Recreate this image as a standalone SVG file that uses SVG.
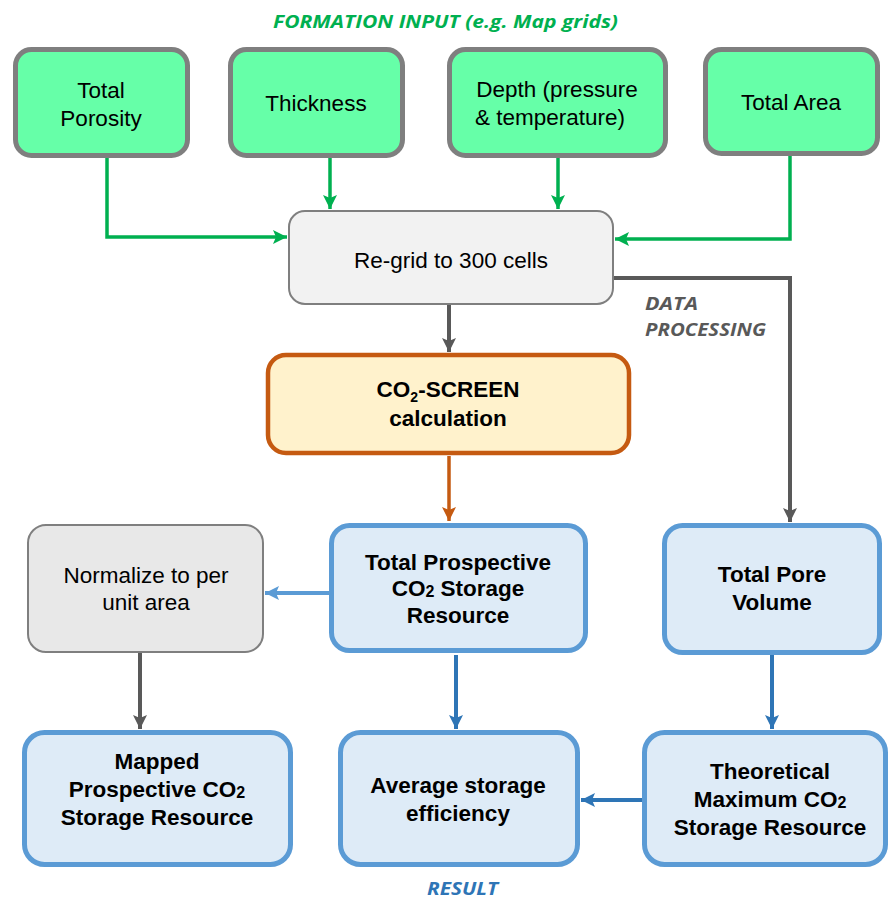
<svg xmlns="http://www.w3.org/2000/svg" width="890" height="902" viewBox="0 0 890 902">
<style>
.in{fill:#66ffa8;stroke:#7f7f7f;stroke-width:5}
.proc{fill:#f2f2f2;stroke:#7f7f7f;stroke-width:2}
.norm{fill:#e8e8e8;stroke:#7f7f7f;stroke-width:2}
.calc{fill:#fff2cc;stroke:#c55a11;stroke-width:4.5}
.res{fill:#deebf7;stroke:#5b9bd5;stroke-width:5}
.t{font-family:"Liberation Sans",Arial,sans-serif;font-size:22.5px;fill:#000;text-anchor:middle}
.b{font-weight:bold}
.lab{font-family:"Open Sans","Liberation Sans",sans-serif;font-weight:bold;font-style:italic;font-size:18px}
.c{fill:none}
</style>
<defs>
<marker id="ag" viewBox="0 0 14 14" refX="14" refY="7" markerWidth="14" markerHeight="14" markerUnits="userSpaceOnUse" orient="auto"><path d="M0,0 L14,7 L0,14 L3,7 z" fill="#00b050"/></marker>
<marker id="ak" viewBox="0 0 14 14" refX="14" refY="7" markerWidth="14" markerHeight="14" markerUnits="userSpaceOnUse" orient="auto"><path d="M0,0 L14,7 L0,14 L3,7 z" fill="#595959"/></marker>
<marker id="ao" viewBox="0 0 14 14" refX="14" refY="7" markerWidth="14" markerHeight="14" markerUnits="userSpaceOnUse" orient="auto"><path d="M0,0 L14,7 L0,14 L3,7 z" fill="#c55a11"/></marker>
<marker id="al" viewBox="0 0 14 14" refX="14" refY="7" markerWidth="14" markerHeight="14" markerUnits="userSpaceOnUse" orient="auto"><path d="M0,0 L14,7 L0,14 L3,7 z" fill="#5b9bd5"/></marker>
<marker id="ab" viewBox="0 0 14 14" refX="14" refY="7" markerWidth="14" markerHeight="14" markerUnits="userSpaceOnUse" orient="auto"><path d="M0,0 L14,7 L0,14 L3,7 z" fill="#2e75b6"/></marker>
</defs>
<rect width="890" height="902" fill="#ffffff"/>

<g id="labels">
<text class="lab" x="273" y="28" fill="#00b050" textLength="345" lengthAdjust="spacingAndGlyphs">FORMATION INPUT (e.g. Map grids)</text>
<text class="lab" x="645" y="310" fill="#595959" textLength="53" lengthAdjust="spacingAndGlyphs">DATA</text>
<text class="lab" x="645" y="336" fill="#595959" textLength="121" lengthAdjust="spacingAndGlyphs">PROCESSING</text>
<text class="lab" x="427" y="895" fill="#2e75b6" textLength="71" lengthAdjust="spacingAndGlyphs">RESULT</text>
</g>

<g id="connectors" class="c">
<path d="M107,158 V237 H287" stroke="#00b050" stroke-width="3.5" fill="none" marker-end="url(#ag)"/>
<path d="M330,158 V209" stroke="#00b050" stroke-width="3.5" fill="none" marker-end="url(#ag)"/>
<path d="M558,158 V209" stroke="#00b050" stroke-width="3.5" fill="none" marker-end="url(#ag)"/>
<path d="M790,155 V239 H615" stroke="#00b050" stroke-width="3.5" fill="none" marker-end="url(#ag)"/>
<path d="M613,278 H790 V522" stroke="#595959" stroke-width="4" fill="none" marker-end="url(#ak)"/>
<path d="M449,305 V352" stroke="#595959" stroke-width="4" fill="none" marker-end="url(#ak)"/>
<path d="M449,456 V521" stroke="#c55a11" stroke-width="3.5" fill="none" marker-end="url(#ao)"/>
<path d="M329,593 H265" stroke="#5b9bd5" stroke-width="4" fill="none" marker-end="url(#al)"/>
<path d="M140,653 V729" stroke="#595959" stroke-width="4" fill="none" marker-end="url(#ak)"/>
<path d="M456,655 V729" stroke="#2e75b6" stroke-width="4" fill="none" marker-end="url(#ab)"/>
<path d="M772,655 V729" stroke="#2e75b6" stroke-width="4" fill="none" marker-end="url(#ab)"/>
<path d="M642,800 H581" stroke="#2e75b6" stroke-width="4" fill="none" marker-end="url(#ab)"/>
</g>

<g id="n-porosity">
<rect class="in" x="15.5" y="49.5" width="172" height="106" rx="16"/>
<text class="t" x="101" y="98">Total</text>
<text class="t" x="101" y="126">Porosity</text>
</g>
<g id="n-thickness">
<rect class="in" x="230.5" y="49.5" width="172" height="106" rx="16"/>
<text class="t" x="316" y="111">Thickness</text>
</g>
<g id="n-depth">
<rect class="in" x="449.5" y="49.5" width="216" height="106" rx="16"/>
<text class="t" x="557" y="97">Depth (pressure</text>
<text class="t" x="550" y="125">&amp; temperature)</text>
</g>
<g id="n-area">
<rect class="in" x="705.5" y="49.5" width="172" height="104" rx="16"/>
<text class="t" x="791" y="110">Total Area</text>
</g>
<g id="n-regrid">
<rect class="proc" x="289" y="211" width="324" height="93" rx="16"/>
<text class="t" x="451" y="268">Re-grid to 300 cells</text>
</g>
<g id="n-calc">
<rect class="calc" x="268" y="355" width="361" height="98" rx="18"/>
<text class="t b" x="448" y="397">CO<tspan font-size="14" dy="5">2</tspan><tspan dy="-5">-SCREEN</tspan></text>
<text class="t b" x="448" y="426">calculation</text>
</g>
<g id="n-normalize">
<rect class="norm" x="28" y="525" width="235" height="127" rx="18"/>
<text class="t" x="146" y="583">Normalize to per</text>
<text class="t" x="146" y="610">unit area</text>
</g>
<g id="n-prospective">
<rect class="res" x="331.5" y="525.5" width="254" height="125" rx="18"/>
<text class="t b" x="458" y="570">Total Prospective</text>
<text class="t b" x="458" y="596">CO<tspan font-size="16" dy="1">2</tspan><tspan dy="-1"> Storage</tspan></text>
<text class="t b" x="458" y="623">Resource</text>
</g>
<g id="n-porevolume">
<rect class="res" x="664.5" y="525.5" width="215" height="127" rx="18"/>
<text class="t b" x="772" y="582">Total Pore</text>
<text class="t b" x="772" y="610">Volume</text>
</g>
<g id="n-mapped">
<rect class="res" x="24.5" y="732.5" width="266" height="132" rx="20"/>
<text class="t b" x="157" y="769">Mapped</text>
<text class="t b" x="157" y="797">Prospective CO<tspan font-size="16" dy="1">2</tspan></text>
<text class="t b" x="157" y="825">Storage Resource</text>
</g>
<g id="n-average">
<rect class="res" x="340.5" y="732.5" width="237" height="132" rx="20"/>
<text class="t b" x="458" y="793">Average storage</text>
<text class="t b" x="458" y="821">efficiency</text>
</g>
<g id="n-theoretical">
<rect class="res" x="644.5" y="732.5" width="241" height="132" rx="20"/>
<text class="t b" x="770" y="779">Theoretical</text>
<text class="t b" x="770" y="807">Maximum CO<tspan font-size="16" dy="1">2</tspan></text>
<text class="t b" x="770" y="835">Storage Resource</text>
</g>
</svg>
